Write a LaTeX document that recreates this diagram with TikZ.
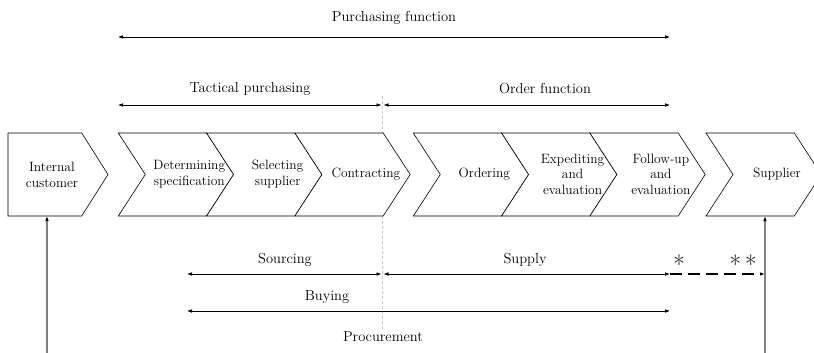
\documentclass[tikz,border=0pt]{standalone}
\usetikzlibrary{arrows.meta}

\tikzset{
  chev/.style={draw=black, fill=white, line width=0.6pt, line join=miter},
  lbl/.style={font=\fontsize{14.5}{16}\selectfont, inner sep=0pt},
  ctext/.style={font=\fontsize{13.5}{15.5}\selectfont, align=center, inner sep=0pt},
  span/.style={{Latex[length=5pt,width=3.6pt]}-{Latex[length=5pt,width=3.6pt]}, line width=0.6pt},
  tail/.style={-{Latex[length=5pt,width=3.6pt]}, line width=1.3pt, dash pattern=on 12pt off 6pt},
  feed/.style={-{Latex[length=5pt,width=3.6pt,black]}, draw=black!50, line width=1.3pt},
  divider/.style={densely dashed, draw=black!22, line width=0.8pt},
  star/.style={font=\fontsize{25}{25}\selectfont, inner sep=0pt, anchor=base},
}

\begin{document}
\begin{tikzpicture}[x=1pt,y=-1pt]
	\clip (0,0) rectangle (814,353);
	% split between tactical part and order part
	\coordinate (div-t) at (382.5,96);
	\coordinate (div-b) at (382.5,330);
	\draw[divider] (div-t) -- (div-b);

	% process chain
	\draw[chev] (8,133) -- (81.7,133) -- (108,174.5) -- (81.7,216) -- (8,216) -- cycle;
	\node[ctext] (cust) at (52,175) {Internal\\customer};
	\foreach \x/\n/\t in {118.3/spec/{Determining\\specification}, 206.6/sel/{Selecting\\supplier},
		294.9/con/Contracting, 413.3/ord/Ordering, 501.6/exped/{Expediting\\and\\evaluation},
		589.9/foll/{Follow-up\\and\\evaluation}, 706/supp/Supplier}{
		\draw[chev] (\x,133) -- ++(88.3,0) -- ++(27,41.5) -- ++(-27,41.5) -- ++(-88.3,0) -- ++(27,-41.5) -- cycle;
		\node[ctext] (\n) at (\x+71,174) {\t};
	}
	\coordinate (cust-b) at (47,216);
	\coordinate (cust-in) at (47,353);
	\coordinate (supp-b) at (765,216);
	\coordinate (supp-in) at (765,353);
	\draw[feed] (cust-in) -- (cust-b);
	\draw[feed] (supp-in) -- (supp-b);

	% spans above
	\coordinate (pf-l) at (118,37);
	\coordinate (pf-r) at (670,37);
	\draw[span] (pf-l) -- (pf-r);
	\node[lbl] (pf) at (394,18) {Purchasing function};
	\coordinate (tp-l) at (118,105);
	\coordinate (tp-r) at (381.5,105);
	\draw[span] (tp-l) -- (tp-r);
	\node[lbl] (tp) at (250,89) {Tactical purchasing};
	\coordinate (of-l) at (383.5,105);
	\coordinate (of-r) at (670,105);
	\draw[span] (of-l) -- (of-r);
	\node[lbl] (of) at (545,89) {Order function};

	% spans below
	\coordinate (src-l) at (187,274);
	\coordinate (src-r) at (381.5,274);
	\draw[span] (src-l) -- (src-r);
	\node[lbl] (src) at (285,260) {Sourcing};
	\coordinate (sply-l) at (383.5,274);
	\coordinate (sply-r) at (670,274);
	\draw[span] (sply-l) -- (sply-r);
	\node[lbl] (sply) at (525,260) {Supply};
	\coordinate (sply-e) at (765,274);
	\draw[tail] (sply-r) -- (sply-e);
	\node[star] (st1) at (679,273) {*};
	\node[star] (st2) at (743,273) {*\kern4pt*};
	\coordinate (buy-l) at (187,311);
	\coordinate (buy-r) at (670,311);
	\draw[span] (buy-l) -- (buy-r);
	\node[lbl] (buy) at (327,297) {Buying};
	\node[lbl] (proc) at (383,337) {Procurement};
\end{tikzpicture}
\end{document}
